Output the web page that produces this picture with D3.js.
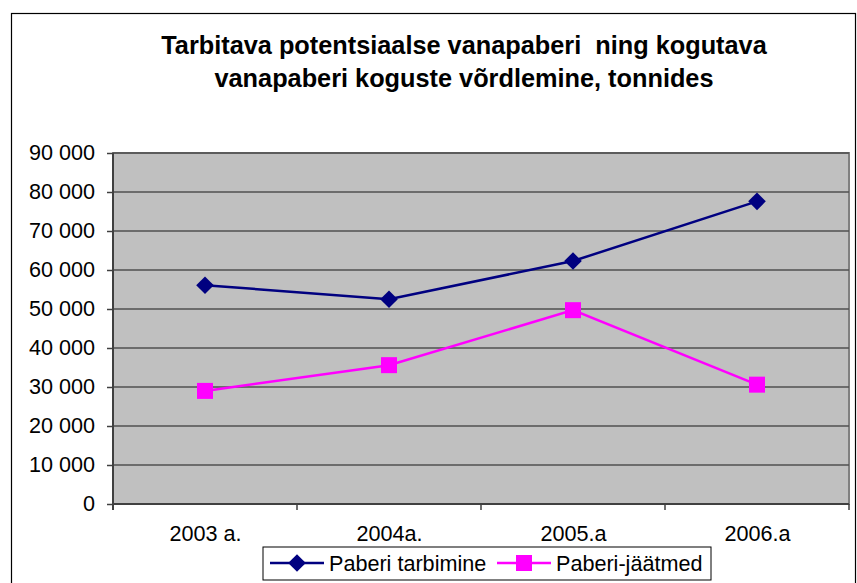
<!DOCTYPE html>
<html>
<head>
<meta charset="utf-8">
<script src="https://cdn.jsdelivr.net/npm/d3@7"></script>
<style>
  body { margin: 0; background: #fff; }
  text { font-family: "Liberation Sans", Arial, sans-serif; }
</style>
</head>
<body>
<div id="chart"></div>
<script>
const categories = ["2003 a.", "2004a.", "2005.a", "2006.a"];
const tarbimine = [56100, 52500, 62300, 77600];
const jaatmed = [29000, 35600, 49700, 30600];
const yTicks = [0, 10000, 20000, 30000, 40000, 50000, 60000, 70000, 80000, 90000];
const seriesNames = ["Paberi tarbimine", "Paberi-jäätmed"];
const titleLines = ["Tarbitava potentsiaalse vanapaberi  ning kogutava", "vanapaberi koguste võrdlemine, tonnides"];

(function () {
  const width = 857, height = 583;
  const plot = { left: 113, right: 849, top: 153, bottom: 504 };
  const fontSize = "21.6px";

  const svg = d3.select("#chart")
    .append("svg")
    .attr("width", width)
    .attr("height", height);

  // chart border
  svg.append("rect")
    .attr("x", 11.5).attr("y", 13.5)
    .attr("width", 844).attr("height", 600)
    .attr("fill", "#fff")
    .attr("stroke", "#000")
    .attr("stroke-width", 1.2);

  svg.append("g").selectAll("text")
    .data(titleLines)
    .join("text")
      .attr("x", 464)
      .attr("y", (d, i) => 54 + i * 32.5)
      .attr("text-anchor", "middle")
      .style("white-space", "pre")
      .style("font-weight", "bold")
      .style("font-size", "25.3px")
      .text(d => d);

  const fmt = d3.formatLocale({ decimal: ",", thousands: " ", grouping: [3], currency: ["", ""] }).format(",");

  const x = d3.scalePoint().domain(categories).range([plot.left, plot.right]).padding(0.5);
  const xBand = d3.scaleBand().domain(categories).range([plot.left, plot.right]);
  const y = d3.scaleLinear().domain([0, 90000]).range([plot.bottom, plot.top]);

  // plot background
  svg.append("rect")
    .attr("x", plot.left).attr("y", plot.top)
    .attr("width", plot.right - plot.left).attr("height", plot.bottom - plot.top)
    .attr("fill", "#c0c0c0")
    .attr("stroke", "#808080")
    .attr("stroke-width", 2);

  // gridlines
  svg.append("g").selectAll("line")
    .data(yTicks.filter(d => d > 0))
    .join("line")
      .attr("x1", plot.left).attr("x2", plot.right)
      .attr("y1", d => y(d)).attr("y2", d => y(d))
      .attr("stroke", "#505050")
      .attr("stroke-width", 1.6);

  // y axis
  const yAxis = svg.append("g")
    .attr("transform", `translate(${plot.left},0)`)
    .call(d3.axisLeft(y).tickValues(yTicks).tickFormat(fmt).tickSize(6).tickPadding(12));
  yAxis.select(".domain").attr("stroke", "#404040").attr("stroke-width", 2)
    .attr("d", `M0,${plot.top}V${plot.bottom + 6}`);
  yAxis.selectAll(".tick line").attr("stroke", "#404040").attr("stroke-width", 1.5);
  yAxis.selectAll(".tick text")
    .style("font-size", fontSize)
    .style("font-family", "'Liberation Sans', Arial, sans-serif")
    .attr("fill", "#000");

  // x axis
  const xAxis = svg.append("g")
    .attr("transform", `translate(0,${plot.bottom})`)
    .call(d3.axisBottom(x).tickSize(0).tickPadding(22));
  xAxis.select(".domain").attr("stroke", "#404040").attr("stroke-width", 2)
    .attr("d", `M${plot.left},0H${plot.right}`);
  xAxis.selectAll(".tick text")
    .style("font-size", fontSize)
    .style("font-family", "'Liberation Sans', Arial, sans-serif")
    .attr("fill", "#000");
  xAxis.selectAll("line.cat")
    .data(categories.map(c => xBand(c)).concat([plot.right]))
    .join("line")
      .attr("class", "cat")
      .attr("x1", d => d).attr("x2", d => d)
      .attr("y1", 0).attr("y2", 6)
      .attr("stroke", "#404040")
      .attr("stroke-width", 1.5);

  const line = d3.line().x((d, i) => x(categories[i])).y(d => y(d));

  // diamond = square rotated by 45 degrees
  const series = [
    { name: seriesNames[0], values: tarbimine, color: "#000080", symbol: d3.symbolSquare, size: 155, rotate: 45 },
    { name: seriesNames[1], values: jaatmed, color: "#ff00ff", symbol: d3.symbolSquare, size: 256, rotate: 0 }
  ];

  series.forEach(s => {
    svg.append("path")
      .attr("d", line(s.values))
      .attr("fill", "none")
      .attr("stroke", s.color)
      .attr("stroke-width", 2.5);
    svg.append("g").selectAll("path")
      .data(s.values)
      .join("path")
        .attr("transform", (d, i) => `translate(${x(categories[i])},${y(d)}) rotate(${s.rotate})`)
        .attr("d", d3.symbol(s.symbol, s.size))
        .attr("fill", s.color);
  });

  // legend
  const legend = svg.append("g");
  legend.append("rect")
    .attr("x", 263).attr("y", 547)
    .attr("width", 448).attr("height", 33)
    .attr("fill", "#fff")
    .attr("stroke", "#000")
    .attr("stroke-width", 1);

  const legendX = [270, 497];
  series.forEach((s, i) => {
    const g = legend.append("g").attr("transform", `translate(${legendX[i]},563)`);
    g.append("line")
      .attr("x1", 0).attr("x2", 54)
      .attr("stroke", s.color).attr("stroke-width", 2.5);
    g.append("path")
      .attr("transform", `translate(27,0) rotate(${s.rotate})`)
      .attr("d", d3.symbol(s.symbol, s.size))
      .attr("fill", s.color);
    g.append("text")
      .attr("x", 59).attr("y", 7.5)
      .style("font-size", fontSize)
      .text(s.name);
  });
})();
</script>
</body>
</html>
